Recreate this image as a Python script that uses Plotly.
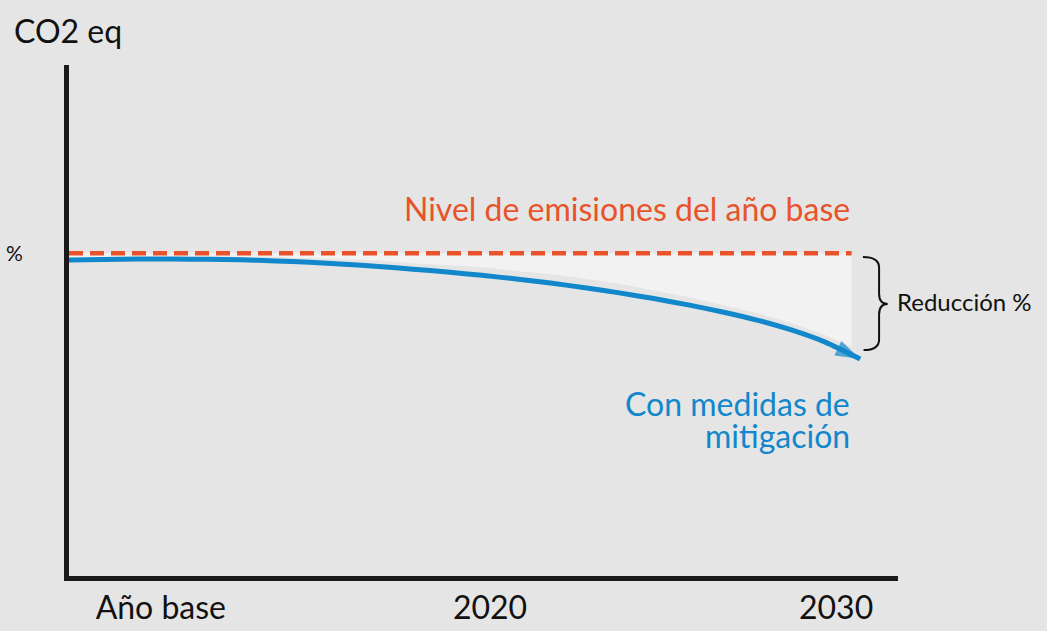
import plotly.graph_objects as go

# ---- data ----
years = [2008, 2009, 2010, 2011, 2012, 2013, 2014, 2015, 2016, 2017, 2018, 2019,
         2020, 2021, 2022, 2023, 2024, 2025, 2026, 2027, 2028, 2029, 2030, 2031]
mitigation = [97.89, 98.05, 98.20, 98.20, 98.10, 97.94, 97.62, 97.19, 96.61, 95.86, 95.06, 94.15,
              93.14, 92.02, 90.74, 89.31, 87.71, 85.95, 83.98, 81.79, 79.29, 76.21, 72.37, 67.22]

fill_years = [2008, 2009, 2010, 2011, 2012, 2013, 2014, 2015, 2016, 2017, 2018, 2019,
              2020, 2021, 2022, 2023, 2024, 2025, 2026, 2027, 2028, 2029, 2030, 2030.75]
fill_edge = [98.51, 98.67, 98.82, 98.82, 99.03, 98.87, 98.86, 98.43, 98.15, 97.72, 96.92, 96.32,
             95.62, 94.50, 93.53, 92.09, 90.50, 88.43, 86.46, 83.96, 81.46, 78.38, 74.54, 70.94]

base_years = [2008, 2030.75]
base_level = [100, 100]

tick_vals = [2010.67, 2020.24, 2030.30]
tick_text = ["Año base", "2020", "2030"]

BG = "#e5e5e5"
ORANGE = "#e8532b"
BLUE = "#1287cb"
FONT = "Lato"

fig = go.Figure()

# reduction area (light fill between base level and mitigation path)
fig.add_trace(go.Scatter(x=fill_years, y=fill_edge, mode="lines",
                         line=dict(width=0, color="rgba(0,0,0,0)", shape="spline", smoothing=0.6),
                         hoverinfo="skip", showlegend=False))
fig.add_trace(go.Scatter(x=[fill_years[0], fill_years[-1]], y=base_level, mode="lines",
                         fill="tonexty", fillcolor="#f2f2f2",
                         line=dict(width=0, color="rgba(0,0,0,0)"),
                         hoverinfo="skip", showlegend=False))

# base-year emissions level (dashed)
fig.add_trace(go.Scatter(x=base_years, y=base_level, mode="lines",
                         line=dict(color=ORANGE, width=4.5, dash="14px,7px"),
                         showlegend=False))

# mitigation path with arrow head
sizes = [0] * (len(years) - 1) + [26]
fig.add_trace(go.Scatter(x=years, y=mitigation, mode="lines+markers",
                         line=dict(color=BLUE, width=5, shape="spline", smoothing=0.6),
                         marker=dict(symbol="arrow", size=sizes, angleref="previous",
                                     color=BLUE, line=dict(width=0)),
                         showlegend=False))

# brace for "Reducción %"
fig.add_shape(type="path", xref="x", yref="y",
              path=("M 2031.08,98.82 Q 2031.55,98.82 2031.55,95.5 L 2031.55,87.5 "
                    "Q 2031.55,84.26 2031.8,84.26 Q 2031.55,84.26 2031.55,81.0 "
                    "L 2031.55,73.3 Q 2031.55,70.01 2031.1,70.01"),
              line=dict(color="#111111", width=2))

fig.add_annotation(x=2030.75, y=114.0, xref="x", yref="y", xanchor="right", yanchor="middle",
                   text="Nivel de emisiones del año base", showarrow=False,
                   font=dict(family=FONT, size=32, color=ORANGE))
fig.add_annotation(x=2030.75, y=53.3, xref="x", yref="y", xanchor="right", yanchor="middle",
                   text="Con medidas de", showarrow=False, align="right",
                   font=dict(family=FONT, size=32, color=BLUE))
fig.add_annotation(x=2030.75, y=43.4, xref="x", yref="y", xanchor="right", yanchor="middle",
                   text="mitigación", showarrow=False, align="right",
                   font=dict(family=FONT, size=32, color=BLUE))
fig.add_annotation(x=2032.01, y=84.9, xref="x", yref="y", xanchor="left", yanchor="middle",
                   text="Reducción %", showarrow=False,
                   font=dict(family=FONT, size=24, color="#111111"))

fig.update_layout(
    width=1047, height=631,
    margin=dict(l=69, r=149, t=65, b=55, autoexpand=False),
    paper_bgcolor=BG, plot_bgcolor=BG,
    title=dict(text="CO2 eq", x=14 / 1047, xanchor="left", xref="container",
               y=1 - 32 / 631, yanchor="middle", yref="container",
               font=dict(family=FONT, size=32, color="#111111")),
    font=dict(family=FONT, color="#111111"),
    xaxis=dict(range=[2008, 2032.1], showgrid=False, zeroline=False, automargin=False,
               showline=True, linecolor="#1a1a1a", linewidth=5,
               tickvals=tick_vals, ticktext=tick_text, ticks="",
               ticklabelstandoff=0,
               tickfont=dict(family=FONT, size=32, color="#111111")),
    yaxis=dict(range=[0, 158.3], showgrid=False, zeroline=False, automargin=False,
               showline=True, linecolor="#1a1a1a", linewidth=5,
               tickvals=[100], ticktext=["%"], ticks="",
               ticklabelstandoff=37,
               tickfont=dict(family=FONT, size=21, color="#111111")),
)

fig.write_html("out.html", config={"displayModeBar": False},
               post_script="document.body.style.margin='0';document.body.style.overflow='hidden';")
